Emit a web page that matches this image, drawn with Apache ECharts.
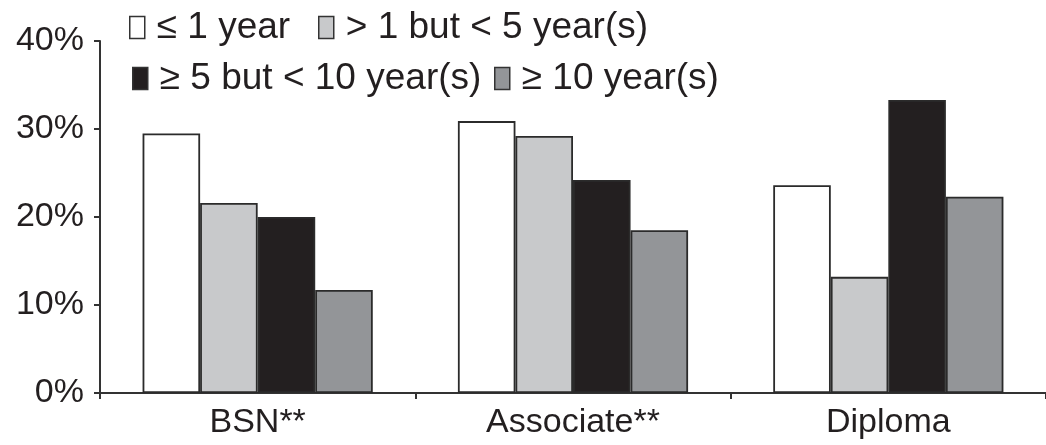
<!DOCTYPE html>
<html>
<head>
<meta charset="utf-8">
<script src="https://cdn.jsdelivr.net/npm/echarts@6/dist/echarts.min.js"></script>
<style>
html,body{margin:0;padding:0;background:#fff;}
#chart{width:1046px;height:445px;}
</style>
</head>
<body>
<div id="chart"></div>
<script>
const categories = ['BSN**', 'Associate**', 'Diploma'];
const seriesNames = ['\u2264 1 year', '> 1 but < 5 year(s)', '\u2265 5 but < 10 year(s)', '\u2265 10 year(s)'];
const le1 = [29.5, 30.9, 23.6];
const gt1lt5 = [21.6, 29.2, 13.2];
const ge5lt10 = [20.0, 24.2, 33.3];
const ge10 = [11.7, 18.5, 22.3];
const yTicks = [0, 10, 20, 30, 40];

const colors = ['#ffffff', '#c8c9cb', '#231f20', '#939598'];
const values = [le1, gt1lt5, ge5lt10, ge10];
const FONT = 'Liberation Sans, Arial, sans-serif';
const TXT = '#231f20';

const chart = echarts.init(document.getElementById('chart'), null, {renderer: 'canvas'});

const legendPos = [
  {left: 129, top: 9},
  {left: 318, top: 9},
  {left: 132, top: 60},
  {left: 494, top: 60}
];

const option = {
  animation: false,
  backgroundColor: '#ffffff',
  grid: {left: 100, top: 41, bottom: 52, right: -8, containLabel: false},
  legend: seriesNames.map((n, i) => ({
    data: [n],
    left: legendPos[i].left,
    top: legendPos[i].top,
    icon: 'rect',
    itemWidth: 15,
    itemHeight: 22,
    itemGap: 0,
    padding: 0,
    textStyle: {fontFamily: FONT, fontSize: 37, color: TXT, padding: [0, 0, 0, 7]},
    itemStyle: {borderColor: '#333', borderWidth: 1.5}
  })),
  xAxis: {
    type: 'category',
    data: categories,
    axisLine: {lineStyle: {color: '#333', width: 2}},
    axisTick: {show: true, length: 6, inside: false, lineStyle: {color: '#333', width: 2}},
    axisLabel: {fontFamily: FONT, fontSize: 34, color: TXT, margin: 13}
  },
  yAxis: {
    type: 'value',
    min: yTicks[0],
    max: yTicks[yTicks.length - 1],
    interval: 10,
    splitLine: {show: false},
    axisLine: {show: true, lineStyle: {color: '#333', width: 2}},
    axisTick: {show: true, length: 6, lineStyle: {color: '#333', width: 2}},
    axisLabel: {fontFamily: FONT, fontSize: 34, color: TXT, margin: 16, formatter: '{value}%'}
  },
  series: seriesNames.map((n, i) => ({
    name: n,
    type: 'bar',
    data: values[i],
    barGap: '0%',
    barCategoryGap: '27%',
    itemStyle: {color: colors[i], borderColor: '#2b2b2b', borderWidth: 1.8}
  }))
};
chart.setOption(option);
</script>
</body>
</html>
